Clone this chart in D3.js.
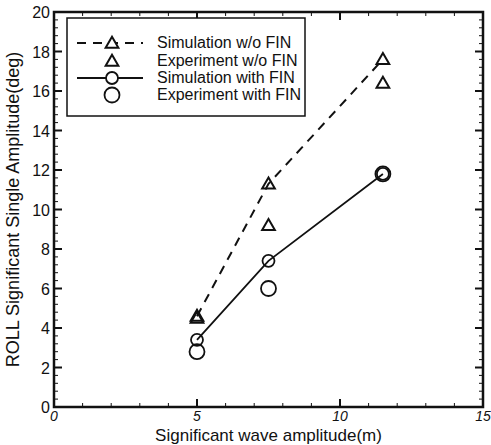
<!DOCTYPE html>
<html>
<head>
<meta charset="utf-8">
<script src="https://cdn.jsdelivr.net/npm/d3@7"></script>
<style>
  body { margin: 0; background: #fff; }
  svg text { font-family: "Liberation Sans", Arial, sans-serif; fill: #111; }
</style>
</head>
<body>
<div id="chart"></div>
<script>
// Wave amplitude (m)
const waveAmp = [5, 7.5, 11.5]

// Roll significant single amplitude (deg)
const simWithoutFin = [4.6, 11.3, 17.6]
const expWithoutFin = [4.5, 9.2, 16.4]
const simWithFin = [3.4, 7.4, 11.8]
const expWithFin = [2.8, 6.0, 11.8]

const xTicks = [0, 5, 10, 15]
const yTicks = [0, 2, 4, 6, 8, 10, 12, 14, 16, 18, 20]

const legendLabels = ['Simulation w/o FIN', 'Experiment w/o FIN', 'Simulation with FIN', 'Experiment with FIN']

const width = 491
const height = 445
const margin = { top: 12, right: 8, bottom: 38, left: 54 }

const svg = d3.select('#chart')
  .append('svg')
  .attr('width', width)
  .attr('height', height)

const x = d3.scaleLinear().domain([0, 15]).range([margin.left, width - margin.right])
const y = d3.scaleLinear().domain([0, 20]).range([height - margin.bottom, margin.top])

// Minor / major ticks pointing inward
const g = svg.append('g')
d3.range(0, 15.01, 1).forEach(v => {
  const major = v % 5 === 0
  const len = major ? 8 : 4
  g.append('line').attr('x1', x(v)).attr('x2', x(v))
    .attr('y1', y(0)).attr('y2', y(0) - len)
    .attr('stroke', '#111').attr('stroke-width', major ? 2 : 1)
  g.append('line').attr('x1', x(v)).attr('x2', x(v))
    .attr('y1', y(20)).attr('y2', y(20) + len)
    .attr('stroke', '#111').attr('stroke-width', major ? 2 : 1)
})
d3.range(0, 20.01, 0.4).forEach(v => {
  const major = Math.abs(v / 2 - Math.round(v / 2)) < 1e-6
  const len = major ? 8 : 4
  g.append('line').attr('y1', y(v)).attr('y2', y(v))
    .attr('x1', x(0)).attr('x2', x(0) + len)
    .attr('stroke', '#111').attr('stroke-width', major ? 2 : 1)
  g.append('line').attr('y1', y(v)).attr('y2', y(v))
    .attr('x1', x(15)).attr('x2', x(15) - len)
    .attr('stroke', '#111').attr('stroke-width', major ? 2 : 1)
})

// Frame
svg.append('rect')
  .attr('x', x(0)).attr('y', y(20))
  .attr('width', x(15) - x(0)).attr('height', y(0) - y(20))
  .attr('fill', 'none').attr('stroke', '#111').attr('stroke-width', 2.5)

// Tick labels
svg.selectAll('text.xt').data(xTicks).enter().append('text')
  .attr('class', 'xt')
  .attr('x', d => x(d)).attr('y', y(0) + 14)
  .attr('text-anchor', 'middle').attr('font-size', 14)
  .attr('font-style', 'italic')
  .text(d => d)

svg.selectAll('text.yt').data(yTicks).enter().append('text')
  .attr('class', 'yt')
  .attr('x', x(0) - 4).attr('y', d => y(d) + 6)
  .attr('text-anchor', 'end').attr('font-size', 16)
  .text(d => d)

// Axis titles
svg.append('text')
  .attr('x', (x(0) + x(15)) / 2).attr('y', height - 4)
  .attr('text-anchor', 'middle').attr('font-size', 17)
  .text('Significant wave amplitude(m)')

svg.append('text')
  .attr('transform', `translate(19,${(y(0) + y(20)) / 2}) rotate(-90)`)
  .attr('text-anchor', 'middle').attr('font-size', 18)
  .text('ROLL Significant Single Amplitude(deg)')

// Marker helpers
const triPath = d3.symbol().type(d3.symbolTriangle).size(70)
function drawTriangles(sel, vals, cls) {
  sel.selectAll('path.' + cls).data(vals).enter().append('path')
    .attr('class', cls)
    .attr('transform', (d, i) => `translate(${x(waveAmp[i])},${y(d) + 1})`)
    .attr('d', triPath)
    .attr('fill', 'none').attr('stroke', '#111').attr('stroke-width', 2)
}
function drawCircles(sel, vals, cls, r) {
  sel.selectAll('circle.' + cls).data(vals).enter().append('circle')
    .attr('class', cls)
    .attr('cx', (d, i) => x(waveAmp[i])).attr('cy', d => y(d))
    .attr('r', r)
    .attr('fill', 'none').attr('stroke', '#111').attr('stroke-width', 1.8)
}

const line = d3.line().x((d, i) => x(waveAmp[i])).y(d => y(d))
const plot = svg.append('g')

plot.append('path').datum(simWithoutFin)
  .attr('d', line).attr('fill', 'none')
  .attr('stroke', '#111').attr('stroke-width', 2).attr('stroke-dasharray', '9,7')
plot.append('path').datum(simWithFin)
  .attr('d', line).attr('fill', 'none')
  .attr('stroke', '#111').attr('stroke-width', 1.8)

drawTriangles(plot, simWithoutFin, 'simwo')
drawTriangles(plot, expWithoutFin, 'expwo')
drawCircles(plot, simWithFin, 'simw', 6)
drawCircles(plot, expWithFin, 'expw', 7.5)

// Legend
const lg = svg.append('g')
lg.append('rect')
  .attr('x', 67).attr('y', 18).attr('width', 238).attr('height', 98)
  .attr('fill', '#fff').attr('stroke', '#111').attr('stroke-width', 1.5)

const rowY = [43, 61, 78, 95]
legendLabels.forEach((label, i) => {
  const yy = rowY[i]
  if (i === 0) {
    lg.append('line').attr('x1', 77).attr('x2', 143).attr('y1', yy).attr('y2', yy)
      .attr('stroke', '#111').attr('stroke-width', 2).attr('stroke-dasharray', '9,7')
  }
  if (i === 2) {
    lg.append('line').attr('x1', 77).attr('x2', 143).attr('y1', yy).attr('y2', yy)
      .attr('stroke', '#111').attr('stroke-width', 1.8)
  }
  if (i < 2) {
    lg.append('path').attr('transform', `translate(112,${yy + 1})`)
      .attr('d', triPath)
      .attr('fill', i === 0 ? '#fff' : 'none').attr('stroke', '#111').attr('stroke-width', 2)
  } else {
    lg.append('circle').attr('cx', 112).attr('cy', yy).attr('r', i === 2 ? 6 : 7.5)
      .attr('fill', '#fff').attr('stroke', '#111').attr('stroke-width', 1.8)
  }
  lg.append('text').attr('x', 157).attr('y', yy + 5)
    .attr('font-size', 16).text(label)
})
</script>
</body>
</html>
